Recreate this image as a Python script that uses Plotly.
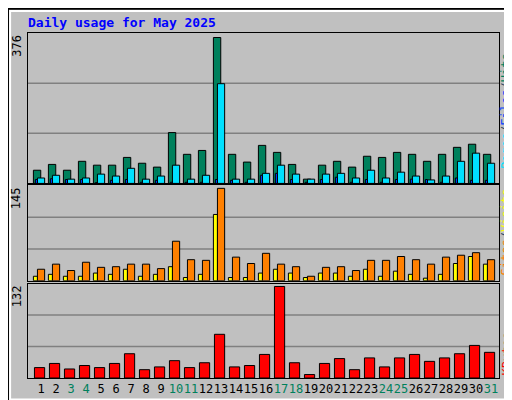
import plotly.graph_objects as go
from plotly.subplots import make_subplots

days = list(range(1, 32))
weekend = [3, 4, 10, 11, 17, 18, 24, 25, 31]

hits = [34, 49, 34, 57, 47, 47, 67, 52, 42, 131, 75, 85, 376, 75, 55, 98,
        80, 49, 11, 47, 57, 42, 70, 67, 80, 75, 57, 75, 93, 101, 75]
files = [14, 21, 11, 14, 24, 19, 39, 11, 19, 47, 11, 21, 257, 11, 11, 26,
         47, 24, 11, 24, 26, 14, 34, 14, 29, 19, 9, 19, 57, 78, 52]
pages = [10, 12, 10, 10, 2, 8, 10, 3, 8, 3, 3, 3, 10, 8, 3, 21,
         26, 10, 3, 10, 16, 3, 10, 3, 10, 11, 10, 3, 14, 8, 8]
sites = [18, 26, 16, 29, 21, 22, 26, 26, 19, 62, 33, 32, 145, 37, 27, 43,
         26, 22, 7, 21, 22, 16, 32, 32, 38, 33, 26, 37, 40, 44, 33]
visits = [7, 10, 7, 7, 12, 10, 18, 7, 10, 22, 5, 10, 104, 5, 5, 12,
          18, 12, 5, 12, 12, 7, 18, 7, 15, 10, 4, 10, 27, 38, 26]
kbytes = [15, 21, 13, 18, 15, 21, 35, 12, 16, 25, 15, 22, 63, 16, 18, 34,
          132, 22, 5, 21, 28, 12, 29, 16, 29, 34, 24, 29, 35, 47, 37]

GRN = "#00805C"
fig = make_subplots(rows=3, cols=1, shared_xaxes=True, vertical_spacing=0)

def bar(y, color, off, w, row):
    fig.add_trace(go.Bar(x=days, y=y, marker=dict(color=color, line=dict(color="black", width=1)),
                         offset=off, width=w, showlegend=False), row=row, col=1)

bar(hits, GRN, -0.51, 0.49, 1)
bar(files, "#00E0FF", -0.24, 0.48, 1)
bar(pages, "#0040FF", -0.38, 0.14, 1)
bar(visits, "#FFFF00", -0.51, 0.27, 2)
bar(sites, "#FF8000", -0.24, 0.48, 2)
bar(kbytes, "#FF0000", -0.44, 0.68, 3)

doms = [[0.564, 1], [0.282, 0.558], [0, 0.2735]]
maxes = [max(hits), max(sites), max(kbytes)]
for i in range(3):
    ax = "yaxis" if i == 0 else f"yaxis{i+1}"
    top = maxes[i] / 0.97
    fig.layout[ax].update(domain=doms[i], range=[0, top], showticklabels=False, showgrid=False,
                          zeroline=False, showline=True, linecolor="black", mirror=True, fixedrange=True)
    yr = "y" if i == 0 else f"y{i+1}"
    for f in (1 / 3, 2 / 3):
        fig.add_shape(type="line", xref="x domain", yref=yr, x0=0, x1=1, y0=top * f, y1=top * f,
                      line=dict(color="#808080", width=1.5), layer="below")
    fig.add_annotation(xref="paper", yref=yr, x=-0.005, y=top, xanchor="right", yanchor="top",
                       text=str(maxes[i]), textangle=-90, showarrow=False,
                       font=dict(family="DejaVu Sans Mono", size=12, color="black"))

ticktext = [f"<span style='color:{GRN if d in weekend else 'black'}'>{d}</span>" for d in days]
for i in range(3):
    ax = "xaxis" if i == 0 else f"xaxis{i+1}"
    fig.layout[ax].update(range=[0.13, 31.53], showline=True, linecolor="black", mirror=True,
                          showgrid=False, zeroline=False, ticks="")
fig.layout.xaxis3.update(tickvals=days, ticktext=ticktext, showticklabels=True, tickangle=0,
                         tickfont=dict(family="Liberation Sans Narrow, DejaVu Sans Mono", size=12))

mono = "DejaVu Sans Mono"
xr = (498 - 20) / 471
fig.add_annotation(xref="paper", yref="paper", x=xr, y=0.6, xanchor="center", yanchor="bottom",
                   textangle=-90, showarrow=False, font=dict(family=mono, size=12),
                   text=f"<span style='color:#00E0FF'>Pages</span>/<span style='color:#0040FF'>Files</span>/<span style='color:{GRN}'>Hits</span>")
fig.add_annotation(xref="paper", yref="paper", x=xr, y=0.29, xanchor="center", yanchor="bottom",
                   textangle=-90, showarrow=False, font=dict(family=mono, size=12),
                   text="<span style='color:#FF8000'>Sites</span>/<span style='color:#FFFF00'>Visits</span>")
fig.add_annotation(xref="paper", yref="paper", x=xr, y=0.0, xanchor="center", yanchor="bottom",
                   textangle=-90, showarrow=False, font=dict(family=mono, size=12, color="#FF0000"),
                   text="KBytes")

# outer bevel border
fig.add_shape(type="rect", xref="paper", yref="paper", x0=-0.038, x1=1.038, y0=-0.062, y1=1.064,
              line=dict(color="white", width=2), layer="below")
fig.add_shape(type="rect", xref="paper", yref="paper", x0=-0.0425, x1=1.0425, y0=-0.0695, y1=1.0705,
              line=dict(color="black", width=2), layer="below")

fig.update_layout(
    width=512, height=400, barmode="overlay",
    margin=dict(l=20, r=21, t=25, b=24),
    paper_bgcolor="#C0C0C0", plot_bgcolor="#C0C0C0",
    title=dict(text="<b>Daily usage for May 2025</b>", x=20 / 512, y=1 - 14 / 400,
               xanchor="left", yanchor="middle",
               font=dict(family=mono, size=13, color="#0000FF")),
)
fig.write_html("out.html")
